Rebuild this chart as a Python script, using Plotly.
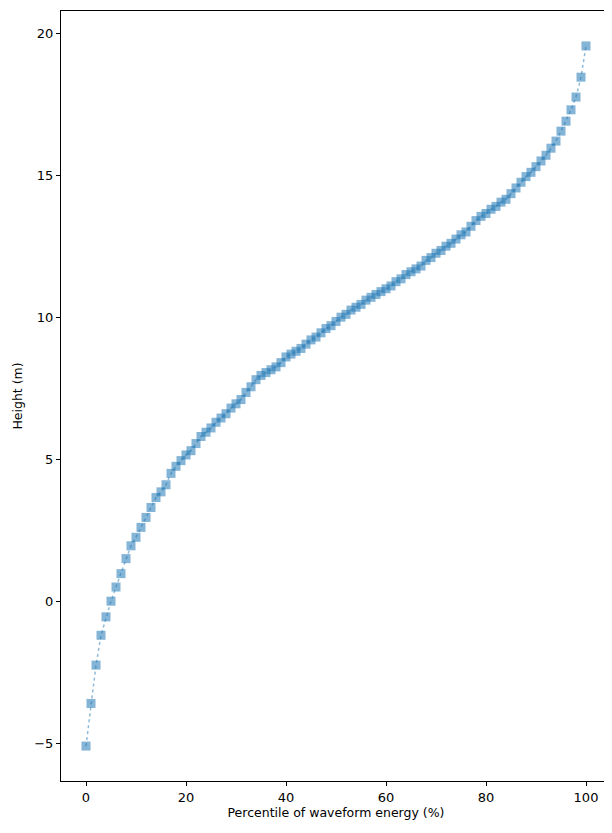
import plotly.graph_objects as go

percentiles = list(range(101))
heights = [-5.1, -3.6, -2.25, -1.2, -0.55, 0.0, 0.5, 0.97, 1.5, 1.95,
           2.25, 2.6, 2.95, 3.3, 3.65, 3.85, 4.1, 4.5, 4.75, 4.95,
           5.15, 5.3, 5.55, 5.8, 5.95, 6.1, 6.3, 6.45, 6.6, 6.8,
           6.95, 7.1, 7.35, 7.55, 7.8, 7.95, 8.05, 8.15, 8.25, 8.4,
           8.6, 8.7, 8.8, 8.9, 9.05, 9.2, 9.3, 9.45, 9.6, 9.7,
           9.85, 10.0, 10.1, 10.25, 10.35, 10.45, 10.6, 10.7, 10.8, 10.9,
           11.0, 11.1, 11.25, 11.35, 11.5, 11.6, 11.7, 11.8, 12.0, 12.1,
           12.25, 12.35, 12.5, 12.6, 12.75, 12.9, 13.0, 13.2, 13.4, 13.55,
           13.65, 13.8, 13.9, 14.05, 14.15, 14.35, 14.55, 14.75, 14.95, 15.1,
           15.3, 15.5, 15.7, 15.95, 16.2, 16.55, 16.9, 17.3, 17.75, 18.45,
           19.55]

fig = go.Figure(go.Scatter(
    x=percentiles, y=heights, mode="lines+markers",
    line=dict(color="rgba(31,119,180,0.5)", dash="dot", width=1.5),
    marker=dict(symbol="square", size=9, color="rgba(31,119,180,0.55)",
                line=dict(width=0)),
))
axis_common = dict(showgrid=False, zeroline=False, showline=True, mirror=True,
                   linecolor="black", linewidth=1, ticks="outside", ticklen=4,
                   tickcolor="black", tickfont=dict(size=13, color="black"))
fig.update_xaxes(range=[-5, 105], tickvals=[0, 20, 40, 60, 80, 100],
                 title=dict(text="Percentile of waveform energy (%)", font=dict(size=12.5, color="black"), standoff=4),
                 **axis_common)
fig.update_yaxes(range=[-6.33, 20.78], tickvals=[-5, 0, 5, 10, 15, 20],
                 title=dict(text="Height (m)", font=dict(size=12.5, color="black"), standoff=8),
                 **axis_common)
fig.update_layout(width=612, height=833, margin=dict(l=53, r=9, t=3, b=60),
                  plot_bgcolor="white", paper_bgcolor="white",
                  font=dict(family="DejaVu Sans"), showlegend=False)
fig.write_html("out.html")
